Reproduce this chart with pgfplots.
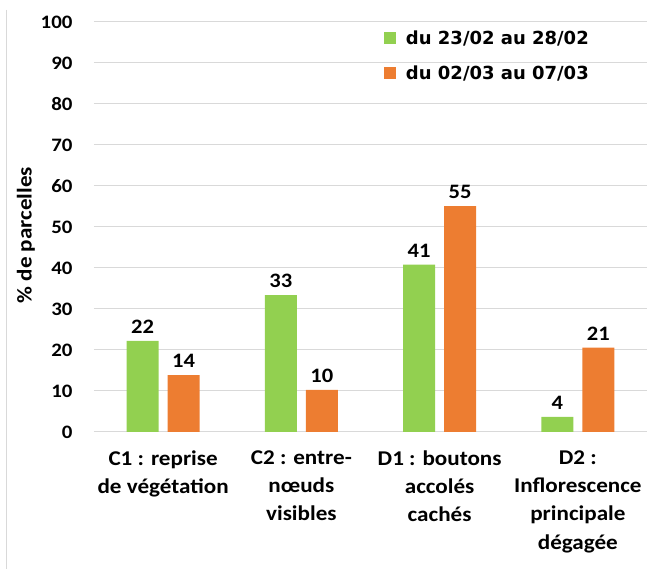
\documentclass[border=0pt]{standalone}
\usepackage{fontspec}
\setmainfont{Carlito}[FakeStretch=1.1]
\newfontfamily\legfont{DejaVu Sans}
\usepackage{pgfplots}
\pgfplotsset{compat=1.18}
\definecolor{barGreen}{HTML}{92D050}
\definecolor{barOrange}{HTML}{ED7D31}
\definecolor{gridGray}{HTML}{D9D9D9}

\begin{document}
\begin{tikzpicture}
\useasboundingbox (-94pt,-137pt) rectangle (553pt,432pt);
\draw[gridGray, line width=1pt] (-87pt,422pt) -- (-87pt,-137pt);
\begin{axis}[
  scale only axis,
  width=553pt, height=410pt,
  ybar=9pt, bar width=32pt,
  xmin=-0.5, xmax=3.5,
  ymin=0, ymax=100,
  ytick={0,10,...,100},
  xtick={0,1,2,3},
  xticklabels={{C1 : reprise\\de végétation},{C2 : entre-\\nœuds\\visibles},{D1 : boutons\\accolés\\cachés},{D2 :\\Inflorescence\\principale\\dégagée}},
  axis line style={draw=none},
  major tick length=0pt,
  ymajorgrids, grid style={gridGray, line width=1pt},
  /pgf/number format/assume math mode=true,
  yticklabel style={font=\fontsize{19}{22}\selectfont\bfseries, xshift=-18pt},
  xticklabel style={font=\fontsize{21}{28.3}\selectfont\bfseries, align=center, yshift=-15pt},
  ylabel={\% de parcelles},
  ylabel style={font=\fontsize{21}{25}\selectfont\bfseries, at={(axis description cs:-0.123,0.48)}, anchor=center},
  legend style={at={(rel axis cs:0.524,0.985)}, anchor=north west, draw=none, fill=none,
                inner sep=0pt, row sep=16pt,
                font=\legfont\bfseries\fontsize{18}{22}\selectfont},
  legend cell align=left,
  nodes near coords={\pgfmathprintnumber[fixed,precision=0]{\pgfplotspointmeta}},
  nodes near coords style={font=\fontsize{20.5}{24}\selectfont\bfseries, anchor=south, yshift=4pt},
]
\addplot[fill=barGreen, draw=none,
  legend image code/.code={\fill[barGreen] (0pt,-6pt) rectangle (12pt,6pt); \path (20pt,0pt);}]
  coordinates {(0,22.2) (1,33.4) (2,40.8) (3,3.7)};
\addplot[fill=barOrange, draw=none,
  legend image code/.code={\fill[barOrange] (0pt,-6pt) rectangle (12pt,6pt); \path (20pt,0pt);}]
  coordinates {(0,13.9) (1,10.3) (2,55.1) (3,20.6)};
\legend{du 23/02 au 28/02, du 02/03 au 07/03}
\end{axis}
\end{tikzpicture}
\end{document}
